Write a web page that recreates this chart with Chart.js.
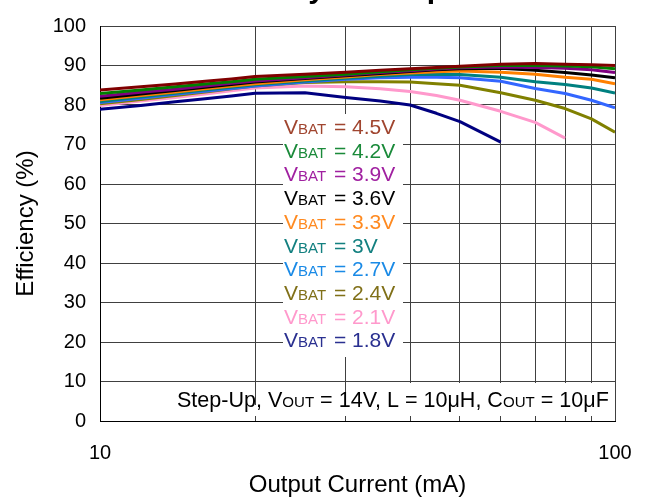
<!DOCTYPE html>
<html><head><meta charset="utf-8">
<script src="https://cdn.jsdelivr.net/npm/chart.js@4/dist/chart.umd.min.js"></script>
<style>html,body{margin:0;padding:0;background:#fff;overflow:hidden}#wrap{width:656px;height:498px;position:relative}</style>
</head><body><div id="wrap"><canvas id="c" width="656" height="498"></canvas></div>
<script>
// ---- data ----
const currents = [10,12,14,16,18,20,25,30,35,40,45,50,60,70,80,90,100];
const eff45 = [83.8,84.6,85.3,86.0,86.6,87.2,87.8,88.3,88.8,89.2,89.5,89.8,90.3,90.5,90.3,90.2,90.0];
const eff42 = [82.9,83.8,84.6,85.3,85.9,86.5,87.2,87.8,88.4,88.9,89.3,89.6,90.0,90.0,89.9,89.7,89.2];
const eff39 = [82.2,83.2,84.0,84.8,85.5,86.1,86.9,87.6,88.2,88.7,89.1,89.4,89.6,89.5,89.3,88.9,88.2];
const eff36 = [81.7,82.8,83.7,84.5,85.2,85.8,86.7,87.4,88.0,88.5,88.9,89.2,89.3,88.8,88.2,87.6,86.9];
const eff33 = [81.3,82.4,83.3,84.1,84.8,85.4,86.4,87.1,87.7,88.1,88.4,88.6,88.3,87.8,87.0,86.5,85.4];
const eff30 = [80.9,82.0,83.0,83.8,84.5,85.1,86.1,86.8,87.3,87.7,87.8,87.7,87.0,85.9,85.2,84.3,83.0];
const eff27 = [80.6,81.7,82.7,83.5,84.2,84.8,85.8,86.5,86.9,87.0,87.0,86.9,86.0,84.2,82.9,81.2,79.3];
const eff24 = [80.3,81.4,82.4,83.3,84.1,84.8,85.7,85.9,85.9,85.8,85.4,85.0,83.1,81.2,79.1,76.5,73.1];
const eff21 = [79.9,81.0,81.9,82.8,83.6,84.3,84.8,84.6,84.1,83.4,82.4,81.2,78.4,75.6,71.6,null,null];
const eff18 = [78.9,79.9,80.8,81.6,82.3,83.0,83.1,81.9,81.0,80.0,77.9,75.8,70.6,null,null,null,null];
const seriesValues = [eff45,eff42,eff39,eff36,eff33,eff30,eff27,eff24,eff21,eff18];
const vbatLabels = ['4.5V','4.2V','3.9V','3.6V','3.3V','3V','2.7V','2.4V','2.1V','1.8V'];
const lineColors = ['#800000','#008000','#800080','#000000','#ff8000','#008080','#3366ff','#808000','#ff99cc','#000080'];
const textColors = ['#a0452f','#1a8a3a','#a020a0','#000000','#ff8a20','#138080','#1a8ae6','#807018','#ff99cc','#2a3090'];
const xGridValues = [10,20,30,40,50,60,70,80,90,100];
const xTickLabels = [10,100];
const yTicks = [0,10,20,30,40,50,60,70,80,90,100];
const titleText = 'Efficiency vs Output Current';
const noteParts = [['Step-Up, V',0],['OUT',1],[' = 14V, L = 10\u03bcH, C',0],['OUT',1],[' = 10\u03bcF',0]];

const FF = '"Liberation Sans", Arial, Helvetica, sans-serif';

const overlay = {
  id:'overlay',
  afterDraw(chart){
    const ctx = chart.ctx;
    ctx.save();
    // clipped title fragment
    ctx.fillStyle = '#000';
    ctx.font = 'bold 30px ' + FF;
    ctx.textBaseline = 'alphabetic';
    ctx.textAlign = 'left';
    const wEff = ctx.measureText('Efficiency').width;
    ctx.fillText(titleText, 317 + 8 - wEff, -2);
    // legend box
    ctx.fillStyle = '#fff';
    ctx.fillRect(283, 114, 120, 243);
    for (let i = 0; i < vbatLabels.length; i++) {
      const by = 134 + 23.7 * i;
      ctx.fillStyle = textColors[i];
      ctx.font = '21px ' + FF;
      ctx.fillText('V', 284, by);
      ctx.font = '15px ' + FF;
      ctx.fillText('BAT', 298, by);
      ctx.font = '21px ' + FF;
      ctx.fillText('= ' + vbatLabels[i], 334, by);
    }
    // note box
    ctx.fillStyle = '#fff';
    ctx.fillRect(362, 383, 251, 33);
    ctx.fillRect(150, 405, 215, 11);
    ctx.fillStyle = '#000';
    // fit note to span 177..609
    const big = 20, small = 14;
    let w = 0;
    for (const [t, s] of noteParts) { ctx.font = (s ? small : big) + 'px ' + FF; w += ctx.measureText(t).width; }
    const k = 432 / w;
    let x = 177;
    for (const [t, s] of noteParts) {
      ctx.font = ((s ? small : big) * k).toFixed(2) + 'px ' + FF;
      ctx.fillText(t, x, 407);
      x += ctx.measureText(t).width;
    }
    ctx.restore();
  }
};

const datasets = seriesValues.map((vals, i) => ({
  label: 'VBAT = ' + vbatLabels[i],
  data: currents.map((c, j) => ({x: c, y: vals[j]})),
  borderColor: lineColors[i],
  backgroundColor: lineColors[i],
  borderWidth: 3,
  pointRadius: 0,
  fill: false,
  tension: 0,
  spanGaps: false,
  borderJoinStyle: 'round'
}));

new Chart(document.getElementById('c'), {
  type: 'line',
  data: { datasets },
  options: {
    responsive: false,
    animation: false,
    devicePixelRatio: 1,
    layout: { padding: { top: 21, right: 41, left: 0, bottom: 0 } },
    plugins: { legend: { display: false }, tooltip: { enabled: false }, title: { display: false } },
    scales: {
      x: {
        type: 'logarithmic', min: 10, max: 100,
        afterBuildTicks: s => { s.ticks = xGridValues.map(v => ({ value: v })); },
        afterFit: s => { s.height = 77; },
        ticks: {
          autoSkip: false, maxRotation: 0, minRotation: 0, padding: 20,
          color: '#000', font: { size: 20, family: FF },
          callback: v => xTickLabels.includes(v) ? String(v) : ''
        },
        grid: { color: '#404040', lineWidth: 1, drawTicks: false },
        border: { color: '#000', width: 1 },
        title: { display: true, text: 'Output Current (mA)', color: '#000', font: { size: 24, family: FF }, padding: { top: 0, bottom: -2 } }
      },
      y: {
        min: 0, max: 100,
        afterBuildTicks: s => { s.ticks = yTicks.map(v => ({ value: v })); },
        afterFit: s => { s.width = 100; },
        ticks: { padding: 14, color: '#000', font: { size: 20, family: FF } },
        grid: { color: '#404040', lineWidth: 1, drawTicks: false },
        border: { color: '#000', width: 1 },
        title: { display: true, text: 'Efficiency (%)', color: '#000', font: { size: 24, family: FF }, padding: { top: 12, bottom: 0 } }
      }
    }
  },
  plugins: [overlay]
});
</script>
</body></html>
